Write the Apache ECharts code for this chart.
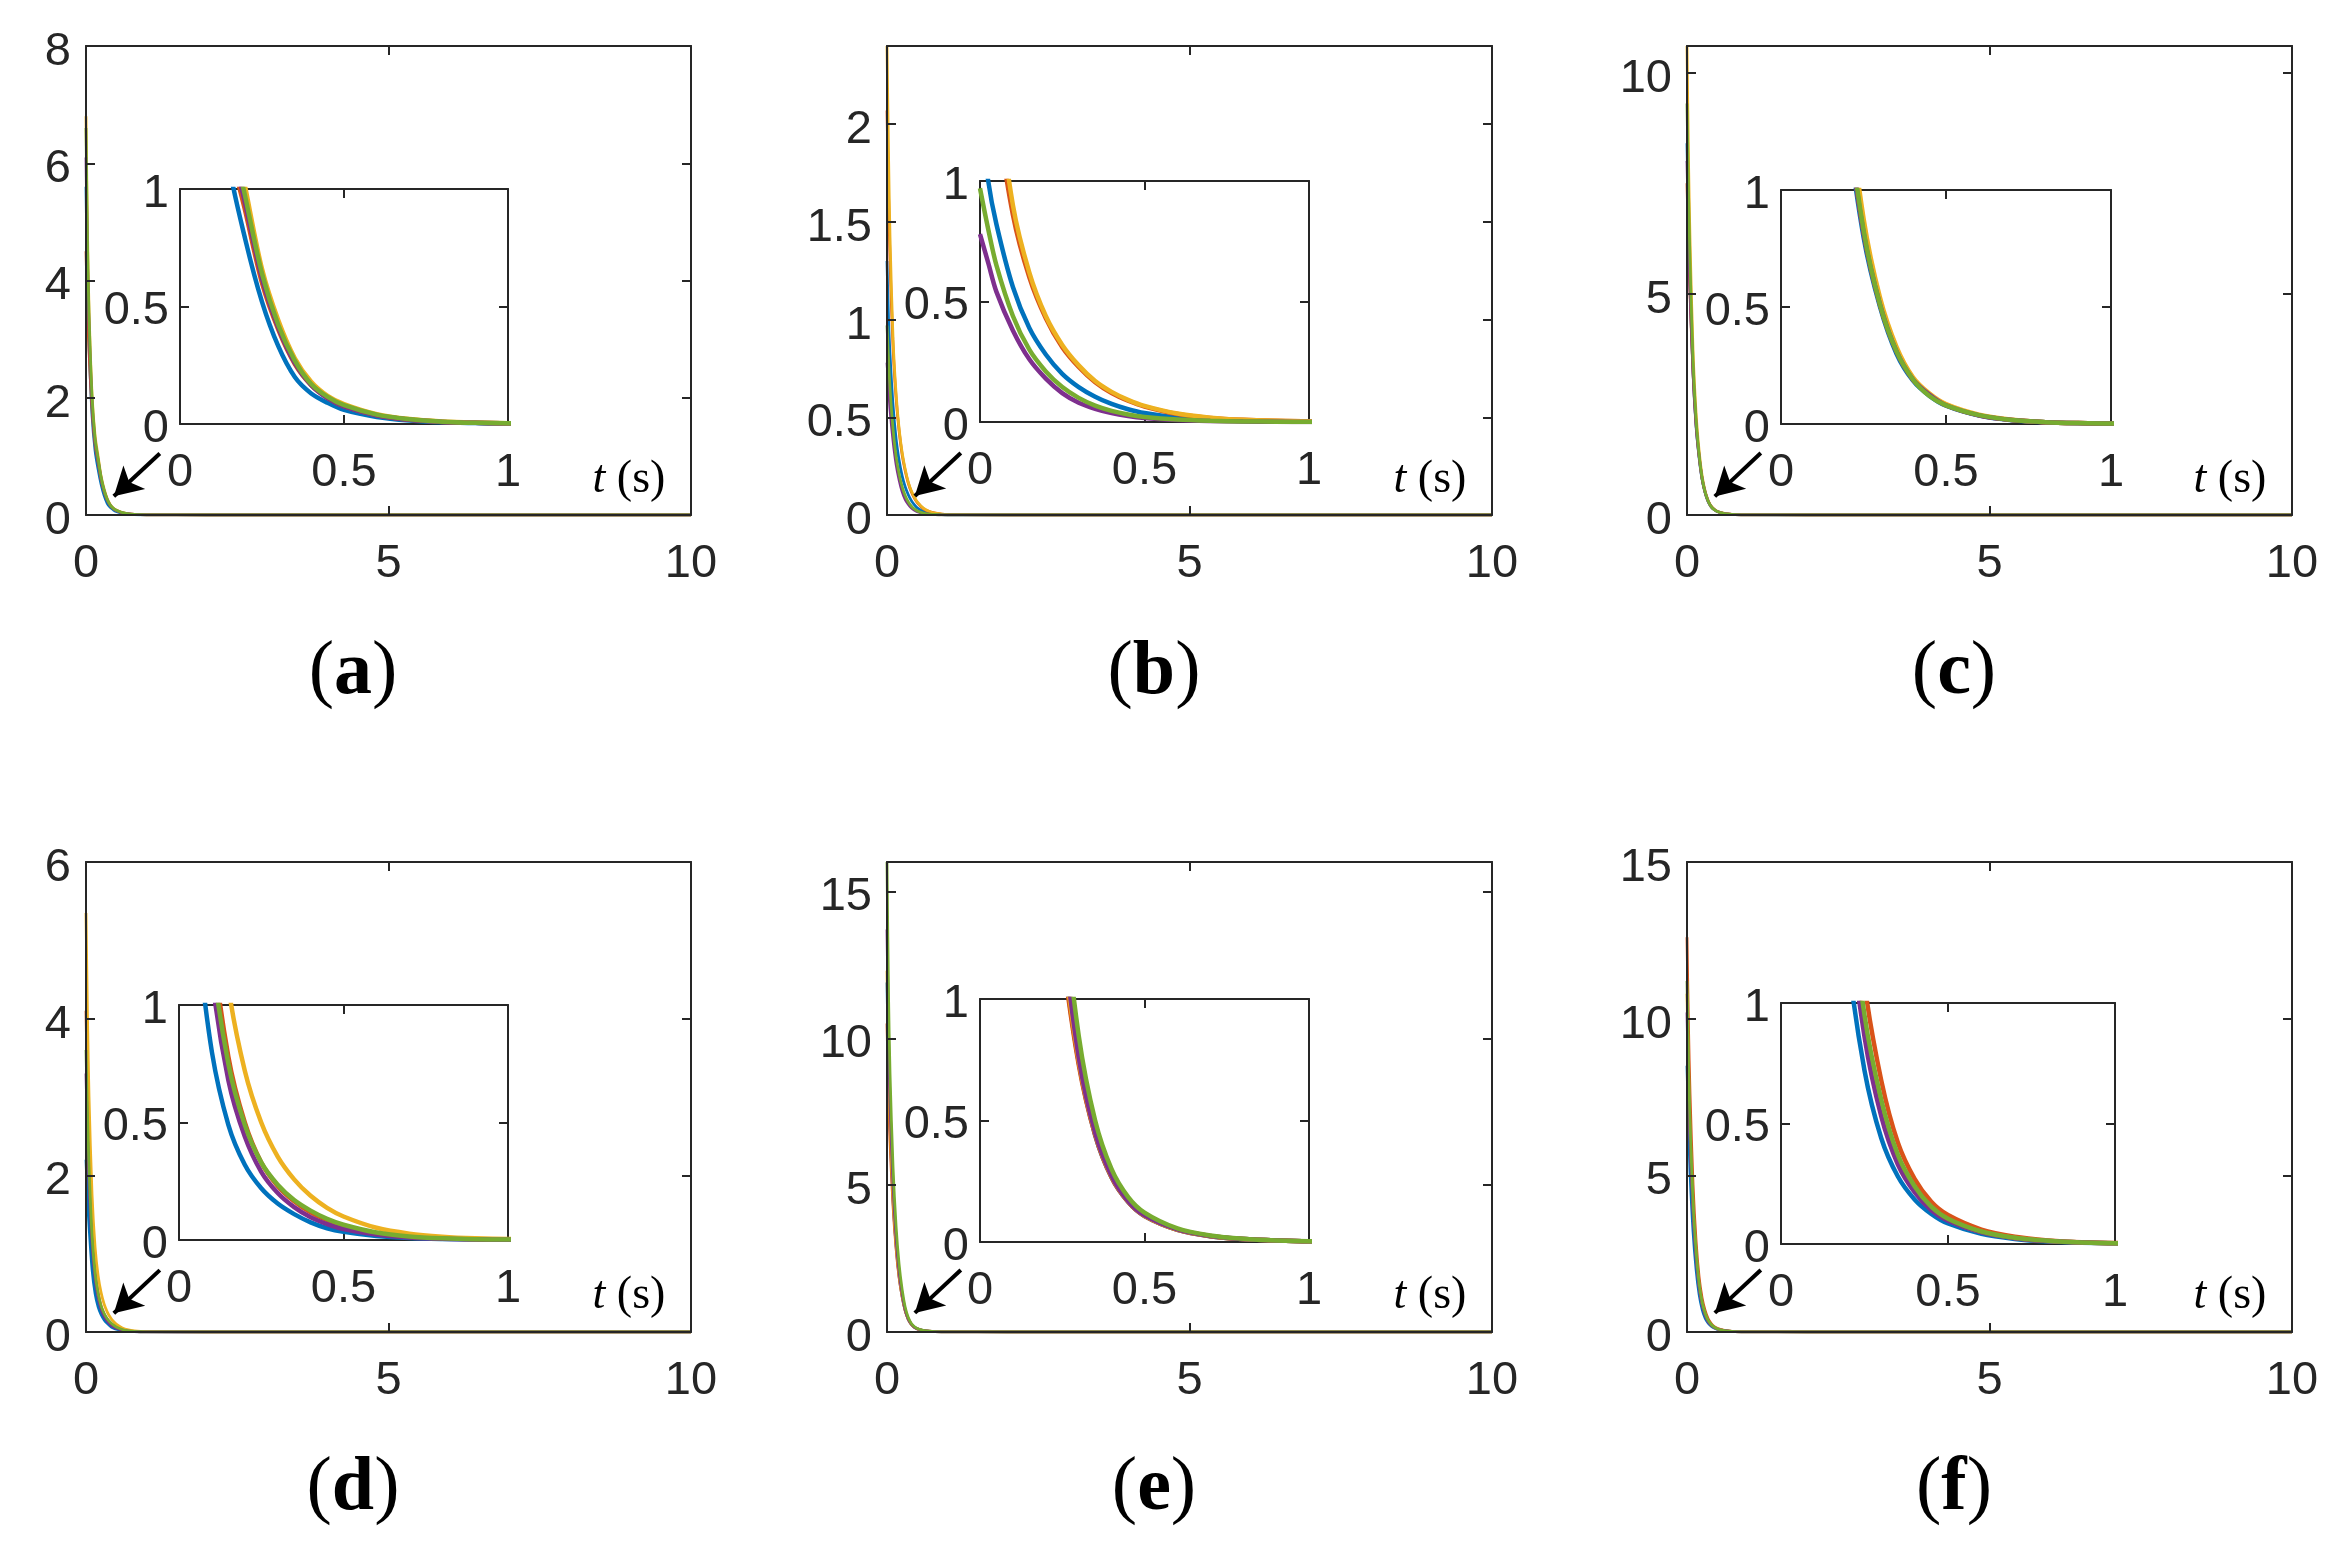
<!DOCTYPE html>
<html><head><meta charset="utf-8">
<script src="https://cdn.jsdelivr.net/npm/echarts@6/dist/echarts.min.js"></script>
<style>html,body{margin:0;padding:0;background:#fff;} #c{width:2331px;height:1545px;}</style>
</head><body><div id="c"></div><script>
// ---- data ----
const times = [0, 0.025, 0.05, 0.1, 0.15, 0.2, 0.25, 0.3, 0.35, 0.4, 0.45, 0.5, 0.6, 0.7, 0.8, 0.9, 1, 2, 10];

const aBlue   = [5.6, 3.9, 2.9, 1.7, 1.1, 0.78, 0.52, 0.33, 0.2, 0.13, 0.09, 0.06, 0.03, 0.015, 0.007, 0.004, 0.002, 0, 0];
const aOrange = [4.5, 3.5, 2.8, 1.8, 1.2, 0.9, 0.6, 0.4, 0.255, 0.165, 0.11, 0.075, 0.037, 0.018, 0.009, 0.005, 0.003, 0, 0];
const aYellow = [6.8, 4.8, 3.5, 2.05, 1.35, 1.0, 0.66, 0.44, 0.28, 0.18, 0.12, 0.085, 0.042, 0.021, 0.011, 0.006, 0.003, 0, 0];
const aPurple = [6.1, 4.3, 3.2, 1.9, 1.25, 0.93, 0.62, 0.41, 0.26, 0.165, 0.11, 0.075, 0.037, 0.018, 0.009, 0.005, 0.003, 0, 0];
const aGreen  = [6.6, 4.6, 3.4, 2.0, 1.3, 0.96, 0.64, 0.42, 0.27, 0.17, 0.115, 0.08, 0.04, 0.02, 0.01, 0.005, 0.003, 0, 0];

const bBlue   = [1.3, 1.0, 0.82, 0.56, 0.39, 0.28, 0.2, 0.145, 0.105, 0.075, 0.053, 0.037, 0.018, 0.009, 0.004, 0.002, 0.001, 0, 0];
const bOrange = [2.07, 1.65, 1.3, 0.86, 0.6, 0.43, 0.31, 0.228, 0.165, 0.12, 0.088, 0.064, 0.033, 0.017, 0.009, 0.005, 0.003, 0, 0];
const bYellow = [2.4, 1.85, 1.42, 0.9, 0.62, 0.44, 0.32, 0.235, 0.17, 0.125, 0.092, 0.067, 0.035, 0.018, 0.009, 0.005, 0.003, 0, 0];
const bPurple = [0.78, 0.66, 0.54, 0.38, 0.26, 0.18, 0.12, 0.08, 0.055, 0.037, 0.025, 0.017, 0.008, 0.004, 0.002, 0.001, 0, 0, 0];
const bGreen  = [0.97, 0.8, 0.65, 0.44, 0.3, 0.21, 0.145, 0.1, 0.068, 0.046, 0.031, 0.021, 0.01, 0.005, 0.0025, 0.001, 0, 0, 0];

const cBlue   = [8.4, 6.6, 5.2, 3.2, 2.0, 1.3, 0.8, 0.5, 0.3, 0.185, 0.12, 0.078, 0.036, 0.016, 0.007, 0.003, 0.001, 0, 0];
const cOrange = [7.5, 6.1, 5.0, 3.2, 2.05, 1.33, 0.82, 0.51, 0.31, 0.19, 0.125, 0.08, 0.037, 0.017, 0.008, 0.004, 0.002, 0, 0];
const cYellow = [10.6, 8.0, 6.2, 3.7, 2.3, 1.45, 0.88, 0.54, 0.33, 0.2, 0.13, 0.085, 0.04, 0.018, 0.008, 0.004, 0.002, 0, 0];
const cPurple = [8.0, 6.4, 5.1, 3.25, 2.05, 1.33, 0.82, 0.51, 0.31, 0.19, 0.125, 0.08, 0.037, 0.017, 0.008, 0.004, 0.002, 0, 0];
const cGreen  = [9.3, 7.3, 5.7, 3.45, 2.15, 1.36, 0.83, 0.51, 0.31, 0.19, 0.12, 0.08, 0.038, 0.017, 0.008, 0.004, 0.002, 0, 0];

const dBlue   = [2.2, 1.7, 1.35, 0.8, 0.49, 0.32, 0.22, 0.155, 0.11, 0.075, 0.05, 0.035, 0.017, 0.008, 0.004, 0.002, 0.001, 0, 0];
const dOrange = [4.1, 3.05, 2.3, 1.3, 0.78, 0.5, 0.33, 0.23, 0.165, 0.118, 0.085, 0.06, 0.03, 0.014, 0.007, 0.003, 0.002, 0, 0];
const dYellow = [5.35, 4.0, 3.0, 1.75, 1.08, 0.72, 0.5, 0.355, 0.258, 0.188, 0.137, 0.1, 0.052, 0.027, 0.014, 0.007, 0.004, 0, 0];
const dPurple = [3.3, 2.5, 1.9, 1.12, 0.68, 0.44, 0.29, 0.2, 0.14, 0.097, 0.068, 0.047, 0.023, 0.011, 0.005, 0.003, 0.001, 0, 0];
const dGreen  = [3.6, 2.75, 2.1, 1.22, 0.75, 0.49, 0.33, 0.235, 0.17, 0.125, 0.09, 0.065, 0.032, 0.015, 0.007, 0.003, 0.002, 0, 0];

const eBlue   = [11.9, 9.0, 7.0, 4.5, 2.95, 1.9, 1.22, 0.74, 0.44, 0.265, 0.165, 0.107, 0.05, 0.024, 0.012, 0.006, 0.003, 0, 0];
const eOrange = [10.5, 8.2, 6.5, 4.3, 2.85, 1.85, 1.2, 0.73, 0.44, 0.265, 0.165, 0.107, 0.05, 0.024, 0.012, 0.006, 0.003, 0, 0];
const eYellow = [12.3, 9.3, 7.2, 4.6, 3.0, 1.95, 1.25, 0.75, 0.45, 0.27, 0.168, 0.109, 0.051, 0.025, 0.012, 0.006, 0.003, 0, 0];
const ePurple = [13.7, 10.2, 7.8, 5.0, 3.2, 2.05, 1.3, 0.76, 0.45, 0.272, 0.169, 0.11, 0.052, 0.025, 0.012, 0.006, 0.003, 0, 0];
const eGreen  = [16, 11.5, 8.8, 5.6, 3.6, 2.3, 1.45, 0.85, 0.5, 0.3, 0.186, 0.121, 0.056, 0.027, 0.013, 0.006, 0.003, 0, 0];

const fBlue   = [8.5, 6.6, 5.1, 3.2, 2.0, 1.2, 0.72, 0.44, 0.28, 0.185, 0.125, 0.085, 0.042, 0.021, 0.01, 0.005, 0.003, 0, 0];
const fOrange = [12.6, 9.7, 7.6, 4.7, 2.9, 1.75, 1.08, 0.68, 0.42, 0.27, 0.175, 0.12, 0.06, 0.03, 0.015, 0.007, 0.004, 0, 0];
const fYellow = [10.8, 8.3, 6.4, 4.0, 2.5, 1.5, 0.91, 0.57, 0.35, 0.23, 0.148, 0.1, 0.05, 0.025, 0.012, 0.006, 0.003, 0, 0];
const fPurple = [10.2, 7.9, 6.1, 3.8, 2.35, 1.42, 0.86, 0.53, 0.33, 0.215, 0.14, 0.097, 0.048, 0.024, 0.012, 0.006, 0.003, 0, 0];
const fGreen  = [11.2, 8.6, 6.7, 4.15, 2.6, 1.55, 0.95, 0.6, 0.37, 0.24, 0.155, 0.105, 0.052, 0.026, 0.013, 0.006, 0.003, 0, 0];

const panelSeries = [
  [aBlue, aOrange, aYellow, aPurple, aGreen],
  [bBlue, bOrange, bYellow, bPurple, bGreen],
  [cBlue, cOrange, cYellow, cPurple, cGreen],
  [dBlue, dOrange, dYellow, dPurple, dGreen],
  [eBlue, eOrange, eYellow, ePurple, eGreen],
  [fBlue, fOrange, fYellow, fPurple, fGreen]
];
const panelLetters = ['a', 'b', 'c', 'd', 'e', 'f'];
const yMaxMain = [8, 2.4, 10.6, 6, 16, 15];
const yTicksMain = [[0, 2, 4, 6, 8], [0, 0.5, 1, 1.5, 2], [0, 5, 10], [0, 2, 4, 6], [0, 5, 10, 15], [0, 5, 10, 15]];
const xMaxMain = 10;
const xTicksMain = [0, 5, 10];
const insetMax = 1;
const insetTicks = [0, 0.5, 1];
// arrow annotation (data coordinates of each main panel)
const arrowTail = [[1.22, 1.05], [1.22, 0.317], [1.22, 1.40], [1.22, 0.79], [1.22, 2.11], [1.22, 1.98]];
const arrowHead = [[0.46, 0.32], [0.46, 0.097], [0.46, 0.42], [0.46, 0.24], [0.46, 0.65], [0.46, 0.61]];

// ---- layout & style ----
const seriesColors = ['#0072BD', '#D95319', '#EDB120', '#7E2F8E', '#77AC30'];
const AX = '#262626';
const FONT = "'Liberation Sans', Arial, Helvetica, sans-serif";
const SERIF = "'Liberation Serif', 'Times New Roman', serif";
const FS = 47;
const MAIN_W = 605;
const mainBoxes = [
  {left: 86, top: 46, height: 469}, {left: 887, top: 46, height: 469}, {left: 1687, top: 46, height: 469},
  {left: 86, top: 862, height: 470}, {left: 887, top: 862, height: 470}, {left: 1687, top: 862, height: 470}
];
const insetBoxes = [
  {left: 180, top: 189, width: 328, height: 235},
  {left: 980, top: 181, width: 329, height: 241},
  {left: 1781, top: 190, width: 330, height: 234},
  {left: 179, top: 1005, width: 329, height: 235},
  {left: 980, top: 999, width: 329, height: 243},
  {left: 1781, top: 1003, width: 334, height: 241}
];
const labelRowY = [673, 673, 673, 1489, 1489, 1489];

const grid = [], xAxis = [], yAxis = [], series = [], graphic = [];

// yShift: moves y-axis labels slightly downward (line box anchored at the tick)
function mkAxis(gridIndex, pos, max, ticks, showLabel, margin, yShift) {
  const label = {show: showLabel, customValues: ticks, fontSize: FS, color: AX, fontFamily: FONT, margin: margin};
  if (yShift) { label.verticalAlign = 'top'; label.lineHeight = 2 * yShift; }
  return {
    type: 'value', gridIndex: gridIndex, position: pos, min: 0, max: max,
    axisLine: {show: true, onZero: false, lineStyle: {color: AX, width: 2}},
    axisTick: {show: true, inside: true, length: 9, lineStyle: {color: AX, width: 2}, customValues: ticks},
    axisLabel: label,
    splitLine: {show: false},
    z: 5
  };
}

for (let p = 0; p < 6; p++) {
  const mb = mainBoxes[p], ib = insetBoxes[p];
  grid.push({left: mb.left, top: mb.top, width: MAIN_W, height: mb.height, containLabel: false, outerBoundsMode: 'none', show: false});
  grid.push({left: ib.left, top: ib.top, width: ib.width, height: ib.height, containLabel: false, outerBoundsMode: 'none',
             show: true, backgroundColor: '#fff', borderWidth: 0, z: 3});
  const gM = 2 * p, gI = 2 * p + 1;
  xAxis.push(mkAxis(gM, 'bottom', xMaxMain, xTicksMain, true, 26, 0));
  xAxis.push(mkAxis(gM, 'top', xMaxMain, xTicksMain, false, 8, 0));
  xAxis.push(mkAxis(gI, 'bottom', insetMax, insetTicks, true, 26, 0));
  xAxis.push(mkAxis(gI, 'top', insetMax, insetTicks, false, 8, 0));
  yAxis.push(mkAxis(gM, 'left', yMaxMain[p], yTicksMain[p], true, 15, 6));
  yAxis.push(mkAxis(gM, 'right', yMaxMain[p], yTicksMain[p], false, 8, 0));
  yAxis.push(mkAxis(gI, 'left', insetMax, insetTicks, true, 11, 5));
  yAxis.push(mkAxis(gI, 'right', insetMax, insetTicks, false, 8, 0));

  const list = panelSeries[p];
  list.forEach((vals, k) => {
    const pts = times.map((t, i) => [t, vals[i]]);
    const main = {
      type: 'line', xAxisIndex: 4 * p, yAxisIndex: 4 * p, data: pts,
      showSymbol: false, symbol: 'none', smooth: 0.3, clip: true,
      lineStyle: {width: 2.8, color: seriesColors[k]}, itemStyle: {color: seriesColors[k]},
      animation: false, silent: true, z: 2
    };
    if (k === list.length - 1) {
      main.markLine = {
        silent: true, animation: false, symbol: ['none', 'arrow'], symbolSize: [24, 28],
        lineStyle: {color: '#000', width: 4, type: 'solid'}, label: {show: false},
        data: [[{coord: arrowTail[p]}, {coord: arrowHead[p]}]]
      };
    }
    series.push(main);
    series.push({
      type: 'line', xAxisIndex: 4 * p + 2, yAxisIndex: 4 * p + 2, data: pts,
      showSymbol: false, symbol: 'none', smooth: 0.3, clip: true,
      lineStyle: {width: 4.5, color: seriesColors[k]}, itemStyle: {color: seriesColors[k]},
      animation: false, silent: true, z: 6
    });
  });

  graphic.push({
    type: 'text', x: mb.left + 543, y: mb.top + 434, z: 20,
    style: {text: '{i|t} (s)', align: 'center', verticalAlign: 'middle', fill: '#000',
            fontSize: 46, fontFamily: SERIF,
            rich: {i: {fontStyle: 'italic', fontSize: 46, fontFamily: SERIF, fill: '#000'}}}
  });
  graphic.push({
    type: 'text', x: mb.left + 267, y: labelRowY[p], z: 20,
    style: {text: '({b|' + panelLetters[p] + '})', align: 'center', verticalAlign: 'middle', fill: '#000',
            fontSize: 76, fontFamily: SERIF,
            rich: {b: {fontWeight: 'bold', fontSize: 76, fontFamily: SERIF, fill: '#000'}}}
  });
}

const chart = echarts.init(document.getElementById('c'), null, {renderer: 'canvas'});
chart.setOption({
  backgroundColor: '#fff', animation: false,
  grid: grid, xAxis: xAxis, yAxis: yAxis, series: series, graphic: graphic
});
</script></body></html>
